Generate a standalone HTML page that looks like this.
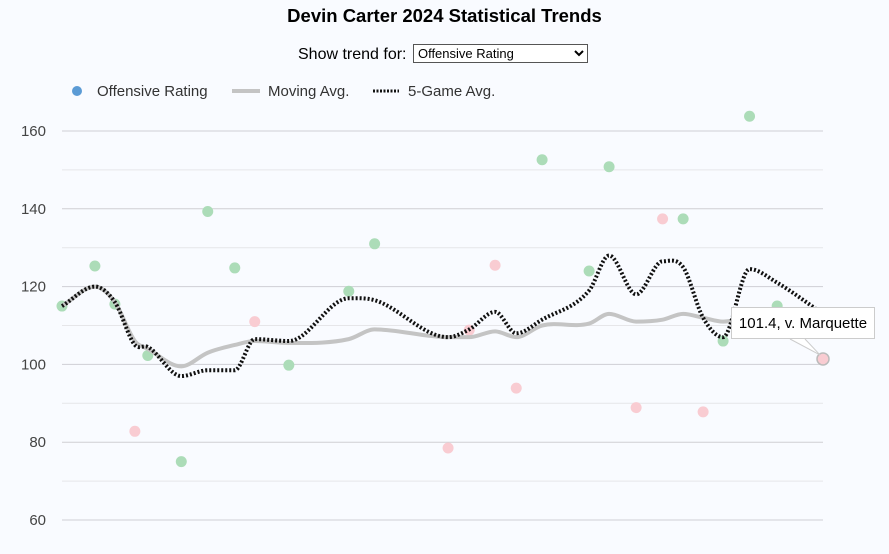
<!DOCTYPE html>
<html><head><meta charset="utf-8"><style>
body{margin:0;background:#f9fbff;font-family:"Liberation Sans",Arial,sans-serif;}
#wrap{position:relative;width:889px;height:554px;overflow:hidden;background:#f9fbff}
h1{position:absolute;top:5px;left:0;width:889px;text-align:center;margin:0;font-size:18.5px;font-weight:bold;color:#000}
#ctl{position:absolute;top:44px;left:298px;font-size:16px;color:#000}
select{font-family:"Liberation Sans",Arial,sans-serif;font-size:13px;width:175px;height:19px;margin-left:2px;vertical-align:1px;background:#fff;border:1px solid #555}
#tip{position:absolute;left:731px;top:307px;width:144px;height:32px;background:#fff;border:1px solid #ccc;font-size:15px;line-height:32px;text-align:center;color:#000;box-sizing:border-box}
</style></head><body>
<div id="wrap">
<h1>Devin Carter 2024 Statistical Trends</h1>
<div id="ctl">Show trend for: <select><option>Offensive Rating</option></select></div>
<svg id="svg" width="889" height="554" style="position:absolute;left:0;top:0"></svg>
<div id="tip">101.4, v. Marquette</div>
</div>
<script>
const gameDay=[0,5.6,9,12.4,14.6,20.3,24.8,29.4,32.8,38.6,48.8,53.2,65.7,69.3,73.7,77.3,81.7,89.7,93.1,97.7,102.2,105.7,109.1,112.5,117,121.7,129.5];
const rating=[115,125.3,115.5,82.8,102.3,75,139.3,124.8,111,99.8,118.8,131,78.5,108.8,125.5,93.9,152.6,124,150.8,88.9,137.4,137.4,87.8,106,163.8,115,101.4];
const won=[1,1,1,0,1,1,1,1,0,1,1,1,0,0,0,0,1,1,1,0,0,1,0,1,1,1,0];
const movingAvg=[115,120,116,106,104,99.5,103,105,106,105.5,106.5,109,107,107,108.5,107,110,110.5,113,111,111.5,113,112,111,112,112.5,113];
const fiveGameAvg=[115,120,116,105,104.5,97,98.5,98.5,106.5,106,117,116.5,107,109,113.5,108,111.5,119,128,118,126.5,125,112,107,124.5,121,113];
const yTicks=[60,80,100,120,140,160];
const yMinor=[70,90,110,130,150];
const NS='http://www.w3.org/2000/svg';
const svg=document.getElementById('svg');
const X0=62,X1=823,Y0=520,Y1=131;
const dMax=gameDay[gameDay.length-1];
const xs=d=>X0+(X1-X0)*d/dMax;
const ys=v=>Y0-(v-60)*(Y0-Y1)/100;
function mk(t,a){const e=document.createElementNS(NS,t);for(const k in a)e.setAttribute(k,a[k]);svg.appendChild(e);return e;}
yMinor.forEach(v=>{const l=mk('line',{x1:X0,x2:X1,y1:ys(v),y2:ys(v),stroke:'#e6e6e9','stroke-width':1});

});
yTicks.forEach(v=>{const l=mk('line',{x1:X0,x2:X1,y1:ys(v),y2:ys(v),stroke:'#cfcfd4','stroke-width':1});


const t=mk('text',{x:46,y:ys(v)+5,'text-anchor':'end','font-size':'15','fill':'#444','font-family':'Liberation Sans, Arial, sans-serif'});t.textContent=v;

});
function monoPath(px,py){const n=px.length;const d=[],m=[];for(let i=0;i<n-1;i++)d.push((py[i+1]-py[i])/(px[i+1]-px[i]));
m[0]=d[0];m[n-1]=d[n-2];for(let i=1;i<n-1;i++){m[i]=(d[i-1]*d[i]<=0)?0:(d[i-1]+d[i])/2;}
let s='M'+px[0]+','+py[0];for(let i=0;i<n-1;i++){const h=(px[i+1]-px[i])/3;s+=' C'+(px[i]+h)+','+(py[i]+m[i]*h)+' '+(px[i+1]-h)+','+(py[i+1]-m[i+1]*h)+' '+px[i+1]+','+py[i+1];}return s;}
const px=gameDay.map(xs);
rating.forEach((v,i)=>{const c=mk('circle',{cx:xs(gameDay[i]),cy:ys(v),r:5.5,fill:won[i]?'#acdcb8':'#f9ccd2'});

});
const ma=mk('path',{d:monoPath(px,movingAvg.map(ys)),fill:'none',stroke:'#c4c4c4','stroke-width':4});


const fg=mk('path',{d:monoPath(px,fiveGameAvg.map(ys)),fill:'none',stroke:'#111','stroke-width':4,'stroke-dasharray':'2,2'});


const last=rating.length-1;
const hl=mk('circle',{cx:xs(gameDay[last]),cy:ys(rating[last]),r:6,fill:'#f9ccd2',stroke:'#bbb','stroke-width':1.5});


const ptr=mk('path',{d:'M790,339 L'+(xs(gameDay[last])-3)+','+(ys(rating[last])-4)+' L805,339',fill:'#fff',stroke:'#ccc'});


const lg=[['c',66,'Offensive Rating',97],['g',232,'Moving Avg.',268],['d',373,'5-Game Avg.',408]];
lg.forEach(L=>{if(L[0]=='c'){const c=mk('circle',{cx:L[1]+11,cy:91,r:5,fill:'#5b9bd5'});}
else{const l=mk('line',{x1:L[1],x2:L[1]+28,y1:91,y2:91,stroke:L[0]=='g'?'#c4c4c4':'#111','stroke-width':L[0]=='g'?4:3,'stroke-dasharray':L[0]=='g'?'none':'2,1.5'});if(L[0]=='d'){l.setAttribute('x2',L[1]+26);}

}
const t=mk('text',{x:L[3],y:96,'font-size':'15','fill':'#333','font-family':'Liberation Sans, Arial, sans-serif'});t.textContent=L[2];

});
</script>
</body></html>
